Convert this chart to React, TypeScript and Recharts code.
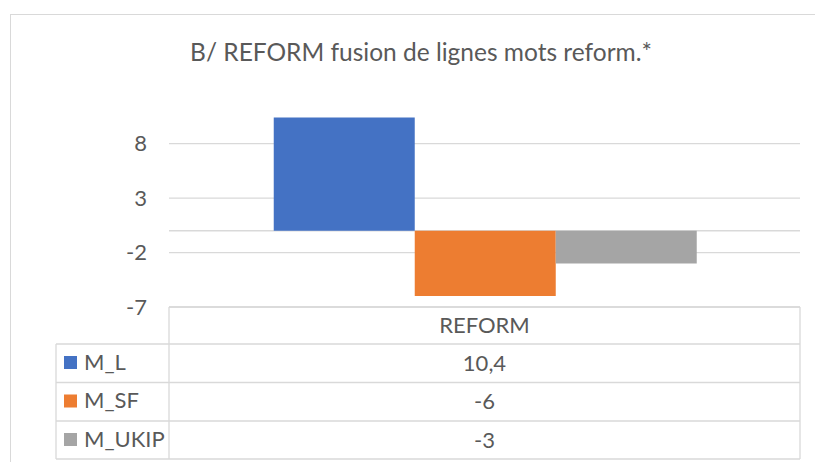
import React from 'react';
import { BarChart, Bar, XAxis, YAxis, CartesianGrid } from 'recharts';

const categories = ['REFORM'];
const seriesNames = ['M_L', 'M_SF', 'M_UKIP'];
const seriesValues = [[10.4], [-6], [-3]];
const seriesColors = ['#4472C4', '#ED7D31', '#A5A5A5'];
const yTicks = [-7, -2, 3, 8];
const yDomain = [-7, 12];
const title = 'B/ REFORM fusion de lignes mots reform.*';

const data = categories.map((c, ci) => {
  const row: Record<string, any> = { name: c };
  seriesNames.forEach((s, si) => {
    row[s] = seriesValues[si][ci];
  });
  return row;
});

const FONT = 'Lato, "Open Sans", sans-serif';
const TEXT = '#595959';
const LINE = '#d9d9d9';

const W = 815;
const H = 462;
const plotLeft = 169;
const plotRight = 800;
const plotBottom = 307;
const tableLeft = 56;
const rowTops = [344, 382.5, 421, 459];

const fmt = (v: number) => String(v).replace('.', ',');

const gridYs = (props: any) => {
  const vals = [...yTicks, 0];
  const scale = props?.yAxis?.scale;
  try {
    if (typeof scale === 'function') return vals.map((t) => scale(t));
    if (scale && typeof scale.map === 'function') return vals.map((t) => scale.map(t));
  } catch (e) {}
  const off = props?.offset ?? { top: 100, height: plotBottom - 100 };
  const [lo, hi] = yDomain;
  return vals.map((t) => off.top + ((hi - t) / (hi - lo)) * off.height);
};

export default function App() {
  return (
    <div style={{ position: 'absolute', left: 0, top: 0, width: W, height: H, background: '#fff', fontFamily: FONT }}>
      <div style={{ position: 'absolute', left: 10, top: 14, width: W, height: H, borderTop: `1px solid ${LINE}`, borderLeft: `1px solid ${LINE}` }} />
      <div style={{ position: 'absolute', left: 0, top: 0 }}>
        <BarChart
          width={W}
          height={H}
          data={data}
          margin={{ top: 100, right: W - plotRight, bottom: H - plotBottom, left: 0 }}
          barCategoryGap="16.6%"
          barGap={0}
        >
          <CartesianGrid vertical={false} stroke={LINE} strokeWidth={1.3} horizontalCoordinatesGenerator={gridYs} />
          <XAxis dataKey="name" hide />
          <YAxis
            width={plotLeft}
            domain={yDomain}
            ticks={yTicks}
            axisLine={false}
            tickLine={false}
            tickMargin={16}
            interval={0}
            tick={{ fill: TEXT, fontSize: 22, fontFamily: FONT }}
          />
          {seriesNames.map((s, i) => (
            <Bar key={s} dataKey={s} fill={seriesColors[i]} isAnimationActive={false} />
          ))}
        </BarChart>
      </div>
      <svg width={W} height={H} style={{ position: 'absolute', left: 0, top: 0, pointerEvents: 'none' }}>
        <text x={421} y={60.5} textAnchor="middle" fill={TEXT} fontSize={24.5} fontFamily={FONT}>{title}</text>
        <line x1={plotLeft} y1={plotBottom} x2={plotRight} y2={plotBottom} stroke={LINE} strokeWidth={1.3} />
        <line x1={plotLeft} y1={plotBottom} x2={plotLeft} y2={rowTops[3]} stroke={LINE} strokeWidth={1.3} />
        <line x1={plotRight} y1={plotBottom} x2={plotRight} y2={rowTops[3]} stroke={LINE} strokeWidth={1.3} />
        <line x1={tableLeft} y1={rowTops[0]} x2={tableLeft} y2={rowTops[3]} stroke={LINE} strokeWidth={1.3} />
        {rowTops.map((y, i) => (
          <line key={i} x1={tableLeft} y1={y} x2={plotRight} y2={y} stroke={LINE} strokeWidth={1.3} />
        ))}
        {categories.map((c) => (
          <text key={c} x={(plotLeft + plotRight) / 2} y={333.3} textAnchor="middle" fill={TEXT} fontSize={22} fontFamily={FONT}>{c}</text>
        ))}
        {seriesNames.map((s, i) => (
          <g key={s}>
            <rect x={64} y={rowTops[i] + 12} width={13} height={13} fill={seriesColors[i]} />
            <text x={84} y={rowTops[i] + 25.5} fill={TEXT} fontSize={22} fontFamily={FONT}>{s}</text>
            {categories.map((c, ci) => (
              <text key={c} x={(plotLeft + plotRight) / 2} y={rowTops[i] + 26.5} textAnchor="middle" fill={TEXT} fontSize={22} fontFamily={FONT}>{fmt(seriesValues[i][ci])}</text>
            ))}
          </g>
        ))}
      </svg>
    </div>
  );
}
